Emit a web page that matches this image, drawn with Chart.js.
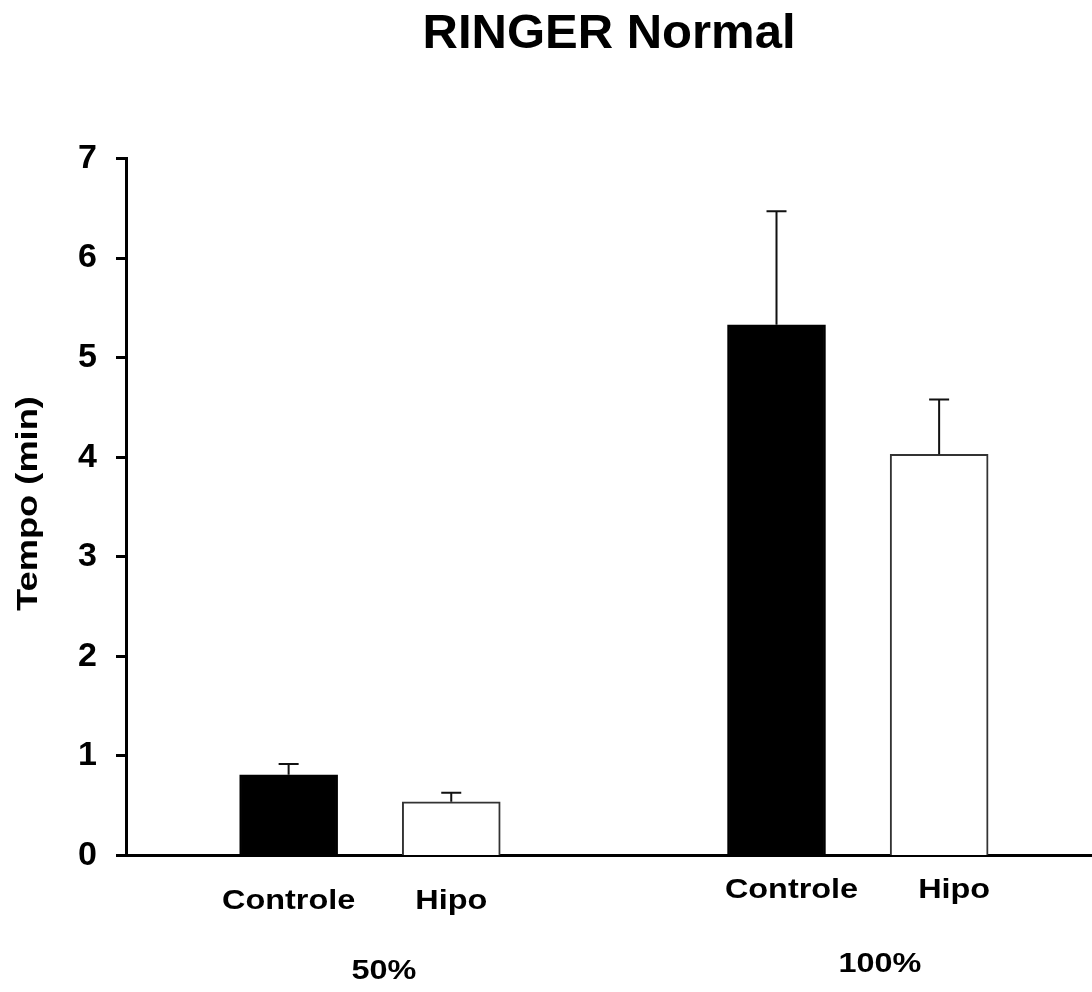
<!DOCTYPE html>
<html>
<head>
<meta charset="utf-8">
<script src="https://cdn.jsdelivr.net/npm/chart.js@4"></script>
<style>
    body { margin: 0; background: #fff; }
</style>
</head>
<body>
<canvas id="ringer_chart" width="1092" height="992"></canvas>
<script>
const groups = ['50%', '100%'];
const categories = ['Controle', 'Hipo'];
const means = [0.81, 0.54, 5.33, 4.03];
const errors = [0.11, 0.09, 1.14, 0.55];
const yTicks = [0, 1, 2, 3, 4, 5, 6, 7];

const fontFamily = '"Liberation Sans", Arial, Helvetica, sans-serif';

// bars at 1,2 then an empty slot, then 4,5
const barPositions = means.map(function (v, i) {
    const g = Math.floor(i / categories.length);
    return g * (categories.length + 1) + (i % categories.length) + 1;
});
const barData = means.map(function (v, i) {
    return {x: barPositions[i], y: v};
});

// label offsets per group (the original figure is a bit uneven)
const groupLabelStyle = [
    {dx: 0, catY: 53.5, groupDx: 14, groupY: 123.5},
    {dx: 15, catY: 42.5, groupDx: 22, groupY: 116.5}
];

function fillStretched(ctx, text, x, y, sx) {
    ctx.save();
    ctx.translate(x, y);
    ctx.scale(sx, 1);
    ctx.fillText(text, 0, 0);
    ctx.restore();
}

const errorBarsPlugin = {
    id: 'errorBars',
    afterDatasetsDraw: function (chart) {
        const ctx = chart.ctx;
        const yScale = chart.scales.y;
        const meta = chart.getDatasetMeta(0);
        ctx.save();
        ctx.strokeStyle = '#111';
        ctx.lineWidth = 2;
        meta.data.forEach(function (bar, i) {
            const top = yScale.getPixelForValue(means[i] + errors[i]);
            ctx.beginPath();
            ctx.moveTo(bar.x, bar.y);
            ctx.lineTo(bar.x, top);
            ctx.moveTo(bar.x - 10, top);
            ctx.lineTo(bar.x + 10, top);
            ctx.stroke();
        });
        ctx.restore();
    }
};

const labelsPlugin = {
    id: 'groupLabels',
    afterDraw: function (chart) {
        const ctx = chart.ctx;
        const xScale = chart.scales.x;
        const area = chart.chartArea;
        ctx.save();
        ctx.fillStyle = '#000';
        ctx.textAlign = 'center';
        ctx.textBaseline = 'alphabetic';
        ctx.font = 'bold 27px ' + fontFamily;

        groups.forEach(function (group, g) {
            const style = groupLabelStyle[g];
            let sum = 0;
            categories.forEach(function (cat, c) {
                const px = xScale.getPixelForValue(barPositions[g * categories.length + c]);
                sum += px;
                fillStretched(ctx, cat, px + style.dx, area.bottom + style.catY, 1.2);
            });
            const mid = sum / categories.length;
            fillStretched(ctx, group, mid + style.groupDx, area.bottom + style.groupY, 1.2);
        });

        // y axis title
        ctx.font = 'bold 29px ' + fontFamily;
        ctx.textBaseline = 'middle';
        ctx.translate(29, (area.top + area.bottom) / 2 - 3.5);
        ctx.rotate(-Math.PI / 2);
        ctx.scale(1.25, 1);
        ctx.fillText('Tempo (min)', 0, 0);
        ctx.restore();
    }
};

const ringerCtx = document.getElementById('ringer_chart').getContext('2d');
const ringerChart = new Chart(ringerCtx, {
    type: 'bar',
    data: {
        datasets: [{
            data: barData,
            backgroundColor: ['#000000', '#ffffff', '#000000', '#ffffff'],
            borderColor: ['#000000', '#333333', '#000000', '#333333'],
            borderWidth: 2,
            barThickness: 98
        }]
    },
    options: {
        responsive: false,
        animation: false,
        layout: {padding: 0},
        plugins: {
            legend: {display: false},
            tooltip: {enabled: false},
            title: {
                display: true,
                text: 'RINGER Normal',
                fullSize: false,
                color: '#000',
                font: {family: fontFamily, size: 49, weight: 'bold', lineHeight: 1.2},
                padding: {top: 5, bottom: 94.7}
            }
        },
        scales: {
            x: {
                type: 'linear',
                offset: false,
                min: 0,
                max: 5.94,
                grid: {display: false, offset: false},
                ticks: {display: false},
                border: {display: true, color: '#000', width: 3},
                afterFit: function (scale) {
                    scale.height = 136.5;
                }
            },
            y: {
                min: yTicks[0],
                max: yTicks[yTicks.length - 1],
                afterBuildTicks: function (scale) {
                    scale.ticks = yTicks.map(function (v) {
                        return {value: v};
                    });
                },
                grid: {
                    drawOnChartArea: false,
                    drawTicks: true,
                    tickLength: 10,
                    tickWidth: 3,
                    color: '#000'
                },
                border: {display: true, color: '#000', width: 3},
                ticks: {
                    color: '#000',
                    padding: 19,
                    font: {family: fontFamily, size: 34, weight: 'bold'}
                },
                afterFit: function (scale) {
                    scale.width = 126;
                }
            }
        }
    },
    plugins: [errorBarsPlugin, labelsPlugin]
});
</script>
</body>
</html>
